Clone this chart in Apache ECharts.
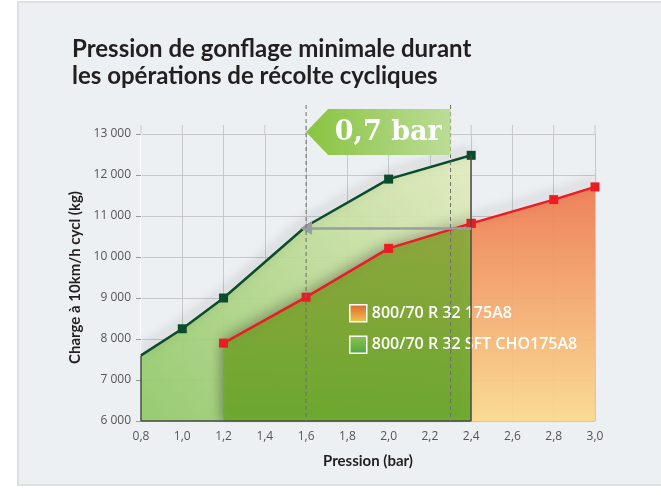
<!DOCTYPE html>
<html>
<head>
<meta charset="utf-8">
<script src="https://cdn.jsdelivr.net/npm/echarts@6/dist/echarts.min.js"></script>
<style>
  html, body { margin: 0; padding: 0; background: #fff; }
  #card {
    position: absolute; left: 17px; top: 1px; width: 650px; height: 485px;
    background: #edf0f2; border: 2px solid #dde1e5; box-sizing: border-box;
  }
  #chart { position: absolute; left: 0; top: 0; width: 661px; height: 495px; }
</style>
</head>
<body>
<div id="card"></div>
<div id="chart"></div>
<script>
// pressure (bar) and load (kg)
const sftPressure = [0.8, 1.0, 1.2, 1.6, 2.0, 2.4];
const sftLoad = [7600, 8250, 9000, 10750, 11900, 12480];
const stdPressure = [1.2, 1.6, 2.0, 2.4, 2.8, 3.0];
const stdLoad = [7900, 9020, 10210, 10820, 11400, 11710];
const sftNoMarker = [0.8, 1.6];

const stdName = '800/70 R 32 175A8';
const sftName = '800/70 R 32 SFT CHO175A8';

// annotation: gap between the two tyres at the same load
const gapFrom = 1.6;
const gapTo = 2.3;
const gapLabel = '0,7 bar';
const arrowLoad = 10700;

const xTicks = [0.8, 1.0, 1.2, 1.4, 1.6, 1.8, 2.0, 2.2, 2.4, 2.6, 2.8, 3.0];

const sftData = sftPressure.map((p, i) => [p, sftLoad[i]]);
const stdData = stdPressure.map((p, i) => [p, stdLoad[i]]);
const splitAt = 2.4;

const chart = echarts.init(document.getElementById('chart'));
const grad = (x0, y0, x1, y1, a, b) => new echarts.graphic.LinearGradient(x0, y0, x1, y1, [
  { offset: 0, color: a }, { offset: 1, color: b }
]);

const lineShadow = { shadowColor: 'rgba(0,0,0,0.35)', shadowBlur: 12, shadowOffsetY: -5 };
const edge = { color: '#4b4b44', width: 1.5, type: 'solid' };
const sftEnd = sftData[sftData.length - 1];

const option = {
  animation: false,
  textStyle: { fontFamily: 'Open Sans' },
  title: {
    text: 'Pression de gonflage minimale durant\nles opérations de récolte cycliques',
    left: 67, top: 31,
    textStyle: {
      fontFamily: 'Lato', fontWeight: 'bold', fontSize: 24,
      color: '#231f20', lineHeight: 27
    }
  },
  grid: { left: 141, right: 66, top: 134, bottom: 74 },
  legend: {
    orient: 'vertical', left: 344, top: 299,
    itemWidth: 17, itemHeight: 17, itemGap: 13,
    textStyle: { color: '#fff', fontSize: 16, fontWeight: 600, fontFamily: 'Open Sans' },
    data: [
      { name: stdName, icon: 'rect',
        itemStyle: { color: grad(0, 0, 0, 1, '#d9692a', '#f6c34f'), borderColor: '#fff', borderWidth: 1.5 } },
      { name: sftName, icon: 'rect',
        itemStyle: { color: grad(0, 0, 0, 1, '#8fc54a', '#4ea545'), borderColor: '#fff', borderWidth: 1.5 } }
    ]
  },
  xAxis: {
    type: 'value', min: 0.8, max: 3.0, interval: 0.2,
    name: 'Pression (bar)', nameLocation: 'middle', nameGap: 33,
    nameTextStyle: { fontFamily: 'Lato', fontWeight: 'bold', fontSize: 15, color: '#231f20' },
    axisLine: { show: false },
    axisTick: { show: false },
    axisLabel: { color: '#555', fontSize: 12, margin: 10,
      formatter: v => v.toFixed(1).replace('.', ',') },
    splitLine: { lineStyle: { color: '#c6c8ca', width: 1 } }
  },
  yAxis: {
    type: 'value', min: 6000, max: 13000, interval: 1000,
    name: 'Charge à 10km/h cycl (kg)', nameLocation: 'middle', nameGap: 57,
    nameTextStyle: { fontFamily: 'Lato', fontWeight: 'bold', fontSize: 15, color: '#231f20' },
    axisLine: { show: true, lineStyle: { color: '#fff', width: 1.5 } },
    axisTick: { show: true, length: 5, lineStyle: { color: '#999' } },
    axisLabel: { color: '#555', fontSize: 12, margin: 10,
      formatter: v => String(v).replace(/\B(?=(\d{3})+(?!\d))/g, ' ') },
    splitLine: { lineStyle: { color: '#c6c8ca', width: 1 } }
  },
  series: [
    {
      name: sftName, type: 'line', data: sftData, z: 2,
      symbol: 'rect',
      symbolSize: (v) => sftNoMarker.includes(v[0]) ? 0 : 9,
      itemStyle: { color: '#0b4d2a' },
      lineStyle: Object.assign({ color: '#0b4d2a', width: 2.5 }, lineShadow),
      areaStyle: { color: grad(0, 1, 1, 0, '#93c86a', '#e2eabf'), opacity: 0.95 }
    },
    {
      name: stdName, type: 'line', z: 3,
      data: stdData.filter(d => d[0] <= splitAt),
      symbol: 'rect', symbolSize: 9,
      itemStyle: { color: '#ec1c24' },
      lineStyle: Object.assign({ color: '#ec1c24', width: 2.5 }, lineShadow),
      areaStyle: { color: grad(0, 0, 0, 1, '#8fa73a', '#6ca92d'), opacity: 0.95,
        shadowColor: 'rgba(0,0,0,0.35)', shadowBlur: 12, shadowOffsetX: -3 }
    },
    {
      name: stdName, type: 'line', z: 3,
      data: stdData.filter(d => d[0] >= splitAt),
      symbol: 'rect', symbolSize: 9,
      itemStyle: { color: '#ec1c24' },
      lineStyle: Object.assign({ color: '#ec1c24', width: 2.5 }, lineShadow),
      areaStyle: { color: grad(0, 0, 0, 1, '#ee7b52', '#fad98e'), opacity: 0.95 }
    },
    {
      // outline of the SFT area and the gap arrow
      type: 'line', data: [], z: 4, silent: true,
      markLine: {
        silent: true, symbol: 'none', label: { show: false },
        lineStyle: edge,
        data: [
          [{ coord: [sftData[0][0], 6000] }, { coord: [sftData[0][0], sftData[0][1]] }],
          [{ coord: [sftData[0][0], 6000] }, { coord: [sftEnd[0], 6000] }],
          [{ coord: [sftEnd[0], 6000] }, { coord: [sftEnd[0], sftEnd[1]] }],
          [{ coord: [splitAt, arrowLoad], symbol: 'none' },
           { coord: [gapFrom, arrowLoad], symbol: 'triangle', symbolSize: [13, 12],
             lineStyle: { color: '#9a9da1', width: 2.5 } }]
        ]
      }
    }
  ]
};
chart.setOption(option);

// dashed guides, label flag and grid tick stubs above the plot
const plotTop = chart.convertToPixel({ yAxisIndex: 0 }, 13000);
const plotBottom = chart.convertToPixel({ yAxisIndex: 0 }, 6000);
const xa = chart.convertToPixel({ xAxisIndex: 0 }, gapFrom);
const xb = chart.convertToPixel({ xAxisIndex: 0 }, gapTo);
const stubs = xTicks.map(t => {
  const x = chart.convertToPixel({ xAxisIndex: 0 }, t);
  return { type: 'line', z: 0, shape: { x1: x, y1: plotTop - 9, x2: x, y2: plotTop },
    style: { stroke: '#c6c8ca', lineWidth: 1 } };
});
const dashed = [xa, xb].map(x => ({
  type: 'line', z: 50, shape: { x1: x, y1: plotTop - 29, x2: x, y2: plotBottom },
  style: { stroke: '#6d6f6d', lineWidth: 1, lineDash: [4, 3] }
}));
chart.setOption({
  graphic: stubs.concat(dashed).concat([
    {
      type: 'polygon', z: 60,
      shape: { points: [[xa, plotTop - 2], [xa + 22, plotTop - 25], [xb, plotTop - 25], [xb, plotTop + 21], [xa + 22, plotTop + 21]] },
      style: { fill: grad(0, 0, 1, 0, '#88c440', '#bcdc97') }
    },
    {
      type: 'text', z: 61, x: (xa + xb) / 2 + 10, y: plotTop - 1,
      style: { text: gapLabel, fill: '#fff', font: 'bold 27px "DejaVu Serif"',
        align: 'center', verticalAlign: 'middle' }
    }
  ])
});
</script>
</body>
</html>
